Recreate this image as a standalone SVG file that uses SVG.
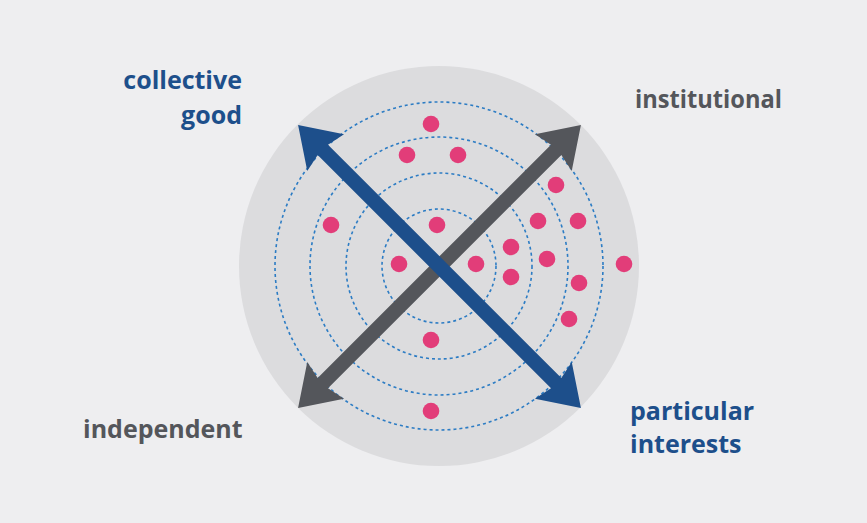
<svg xmlns="http://www.w3.org/2000/svg" width="867" height="523" viewBox="0 0 867 523">
<defs>
<style>
.lbl{font-family:"Open Sans","Liberation Sans",sans-serif;font-weight:700;font-size:25px}
.blue{fill:#1d4f8b}
.gray{fill:#54565b}
.ring{fill:none;stroke:#2c7cc4;stroke-width:1.6;stroke-dasharray:3 3}
.dot{fill:#e23d79}
</style>
<path id="arr" d="M200 0 L161 -26 L165 -7.3 L-165 -7.3 L-161 -26 L-200 0 L-161 26 L-165 7.3 L165 7.3 L161 26 Z"/>
</defs>
<rect width="867" height="523" fill="#eeeef0"/>
<g id="disc">
<circle cx="439" cy="266" r="200" fill="#dcdcde"/>
</g>
<g id="rings">
<circle class="ring" cx="439" cy="266" r="57"/>
<circle class="ring" cx="439" cy="266" r="93"/>
<circle class="ring" cx="439" cy="266" r="129"/>
<circle class="ring" cx="439" cy="266" r="164"/>
</g>
<g id="dots">
<circle class="dot" cx="431" cy="124" r="8.3"/>
<circle class="dot" cx="407" cy="155" r="8.3"/>
<circle class="dot" cx="458" cy="155" r="8.3"/>
<circle class="dot" cx="556" cy="185" r="8.3"/>
<circle class="dot" cx="331" cy="225" r="8.3"/>
<circle class="dot" cx="437" cy="225" r="8.3"/>
<circle class="dot" cx="538" cy="221" r="8.3"/>
<circle class="dot" cx="578" cy="221" r="8.3"/>
<circle class="dot" cx="511" cy="247" r="8.3"/>
<circle class="dot" cx="399" cy="264" r="8.3"/>
<circle class="dot" cx="476" cy="264" r="8.3"/>
<circle class="dot" cx="547" cy="259" r="8.3"/>
<circle class="dot" cx="624" cy="264" r="8.3"/>
<circle class="dot" cx="511" cy="277" r="8.3"/>
<circle class="dot" cx="579" cy="283" r="8.3"/>
<circle class="dot" cx="569" cy="319" r="8.3"/>
<circle class="dot" cx="431" cy="340" r="8.3"/>
<circle class="dot" cx="431" cy="411" r="8.3"/>
</g>
<g id="connectors">
<use href="#arr" class="gray" transform="translate(439.5 266.5) rotate(-45)"/>
<use href="#arr" class="blue" transform="translate(439.5 266.5) rotate(45)"/>
</g>
<g id="label-collective">
<text class="lbl blue" x="242" y="89" text-anchor="end">collective</text>
<text class="lbl blue" x="242" y="124" text-anchor="end">good</text>
</g>
<g id="label-institutional">
<text class="lbl gray" x="635" y="108" textLength="147" lengthAdjust="spacingAndGlyphs">institutional</text>
</g>
<g id="label-independent">
<text class="lbl gray" x="83" y="438">independent</text>
</g>
<g id="label-particular">
<text class="lbl blue" x="630" y="420">particular</text>
<text class="lbl blue" x="630" y="453">interests</text>
</g>
</svg>
